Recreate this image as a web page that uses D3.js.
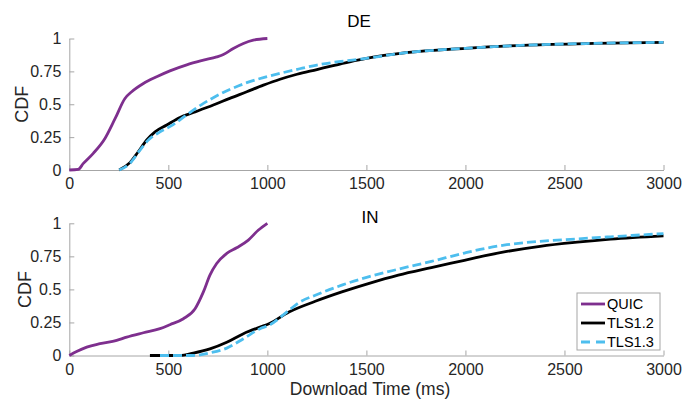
<!DOCTYPE html>
<html>
<head>
<meta charset="utf-8">
<script src="https://cdn.jsdelivr.net/npm/d3@7"></script>
<style>
  body { margin: 0; background: #fff; }
  svg { font-family: "Liberation Sans", Arial, Helvetica, sans-serif; }
  .axis path, .axis line { stroke: #a6a6a6; }
  .axis text { fill: #262626; font-size: 16px; }
</style>
</head>
<body>
<script>
const WIDTH = 685;
const HEIGHT = 401;

// tick labels
var xTicks = [0, 500, 1000, 1500, 2000, 2500, 3000];
var yTicks = [0, 0.25, 0.5, 0.75, 1];
var yTickLabels = ["0", "0.25", "0.5", "0.75", "1"];
var seriesNames = ["QUIC", "TLS1.2", "TLS1.3"];

// DE panel, [ms, cdf]
var deQuic = [[0,0],[45,0.005],[71,0.05],[121,0.127],[180,0.24],[231,0.39],[281,0.544],[315,0.595],
  [374,0.658],[441,0.709],[508,0.754],[593,0.8],[677,0.835],[744,0.86],[778,0.878],[828,0.924],
  [879,0.962],[929,0.987],[1000,1.0]];
var deTls12 = [[252,0],[306,0.056],[348,0.139],[391,0.228],[433,0.29],[492,0.342],[559,0.4],
  [626,0.437],[727,0.494],[810,0.545],[896,0.595],[980,0.645],[1064,0.69],[1150,0.728],[1250,0.764],
  [1332,0.794],[1416,0.823],[1500,0.849],[1700,0.892],[2000,0.925],[2317,0.95],[2650,0.963],[3000,0.971]];
var deTls13 = [[252,0],[306,0.05],[357,0.152],[399,0.228],[458,0.29],[525,0.345],[593,0.42],
  [660,0.49],[727,0.55],[810,0.612],[896,0.664],[980,0.703],[1064,0.735],[1163,0.77],[1250,0.798],
  [1332,0.818],[1500,0.849],[1700,0.892],[2000,0.925],[2317,0.95],[2650,0.963],[3000,0.971]];

// IN panel, [ms, cdf]
var inQuic = [[0,0],[37,0.03],[88,0.063],[155,0.089],[239,0.114],[290,0.139],[374,0.172],[458,0.203],
  [508,0.233],[576,0.278],[635,0.354],[677,0.481],[710,0.608],[744,0.696],[795,0.772],[845,0.815],
  [904,0.873],[955,0.949],[1000,1.0]];
var inTls12 = [[407,0],[559,0],[626,0.018],[710,0.05],[795,0.1],[879,0.165],[963,0.215],[1008,0.24],
  [1109,0.329],[1242,0.41],[1376,0.481],[1510,0.544],[1661,0.608],[1828,0.665],[1995,0.72],
  [2100,0.755],[2209,0.787],[2377,0.826],[2564,0.857],[2733,0.88],[3000,0.905]];
var inTls13 = [[458,0],[626,0],[710,0.02],[795,0.056],[879,0.127],[963,0.203],[1008,0.228],
  [1109,0.342],[1159,0.4],[1242,0.456],[1376,0.532],[1510,0.595],[1661,0.653],[1828,0.712],
  [1995,0.775],[2100,0.81],[2209,0.838],[2377,0.864],[2564,0.882],[2733,0.898],[3000,0.922]];

var colors = ["#7e2f8e", "#000000", "#4dbeee"];
var dashes = [null, null, "9,4"];

var translate = function(x, y){
  return "translate(" + x + "," + y + ")";
};

var svg = d3.select("body").append("svg")
  .attr("width", WIDTH)
  .attr("height", HEIGHT);

var xScale = d3.scaleLinear().domain([0, 3000]).range([69.3, 663.5]);

var drawPanel = function(top, bottom, title, titleX, titleY, labelX, series){
  var yScale = d3.scaleLinear().domain([0, 1]).range([bottom, top]);

  var xAxis = d3.axisBottom(xScale).tickValues(xTicks).tickFormat(d3.format("d"))
    .tickSizeInner(-5).tickSizeOuter(0).tickPadding(8);
  var yAxis = d3.axisLeft(yScale).tickValues(yTicks)
    .tickFormat(function(d, i){ return yTickLabels[i]; })
    .tickSizeInner(-5).tickSizeOuter(0).tickPadding(8);

  svg.append("g").attr("class", "axis")
    .attr("transform", translate(0, bottom))
    .call(xAxis);
  svg.append("g").attr("class", "axis")
    .attr("transform", translate(69.3, 0))
    .call(yAxis);

  var line = d3.line()
    .x(function(d){ return xScale(d[0]); })
    .y(function(d){ return yScale(d[1]); })
    .curve(d3.curveMonotoneX);

  series.forEach(function(s, i){
    svg.append("path")
      .attr("d", line(s))
      .attr("fill", "none")
      .attr("stroke", colors[i])
      .attr("stroke-width", 2.8)
      .attr("stroke-dasharray", dashes[i]);
  });

  svg.append("text")
    .attr("x", titleX).attr("y", titleY)
    .attr("text-anchor", "middle")
    .attr("font-size", 17)
    .attr("fill", "#000")
    .text(title);

  svg.append("text")
    .attr("transform", translate(labelX, (top + bottom) / 2) + " rotate(-90)")
    .attr("text-anchor", "middle")
    .attr("font-size", 18)
    .attr("fill", "#262626")
    .text("CDF");
};

drawPanel(38.5, 170, "DE", 359, 27, 27.5, [deQuic, deTls12, deTls13]);
drawPanel(223.3, 355.5, "IN", 370, 223, 30.5, [inQuic, inTls12, inTls13]);

svg.append("text")
  .attr("x", 370).attr("y", 395)
  .attr("text-anchor", "middle")
  .attr("font-size", 17.5)
  .attr("fill", "#262626")
  .text("Download Time (ms)");

// legend
var legend = svg.append("g").attr("transform", translate(577, 293));
legend.append("rect")
  .attr("width", 83).attr("height", 57)
  .attr("fill", "#fff")
  .attr("stroke", "#a6a6a6");
seriesNames.forEach(function(name, i){
  var y = 11 + i * 19;
  legend.append("line")
    .attr("x1", 4).attr("x2", 28)
    .attr("y1", y).attr("y2", y)
    .attr("stroke", colors[i])
    .attr("stroke-width", 2.8)
    .attr("stroke-dasharray", i == 2 ? "9,6" : null);
  legend.append("text")
    .attr("x", 30).attr("y", y + 5)
    .attr("font-size", 14.5)
    .attr("fill", "#000")
    .text(name);
});
</script>
</body>
</html>
